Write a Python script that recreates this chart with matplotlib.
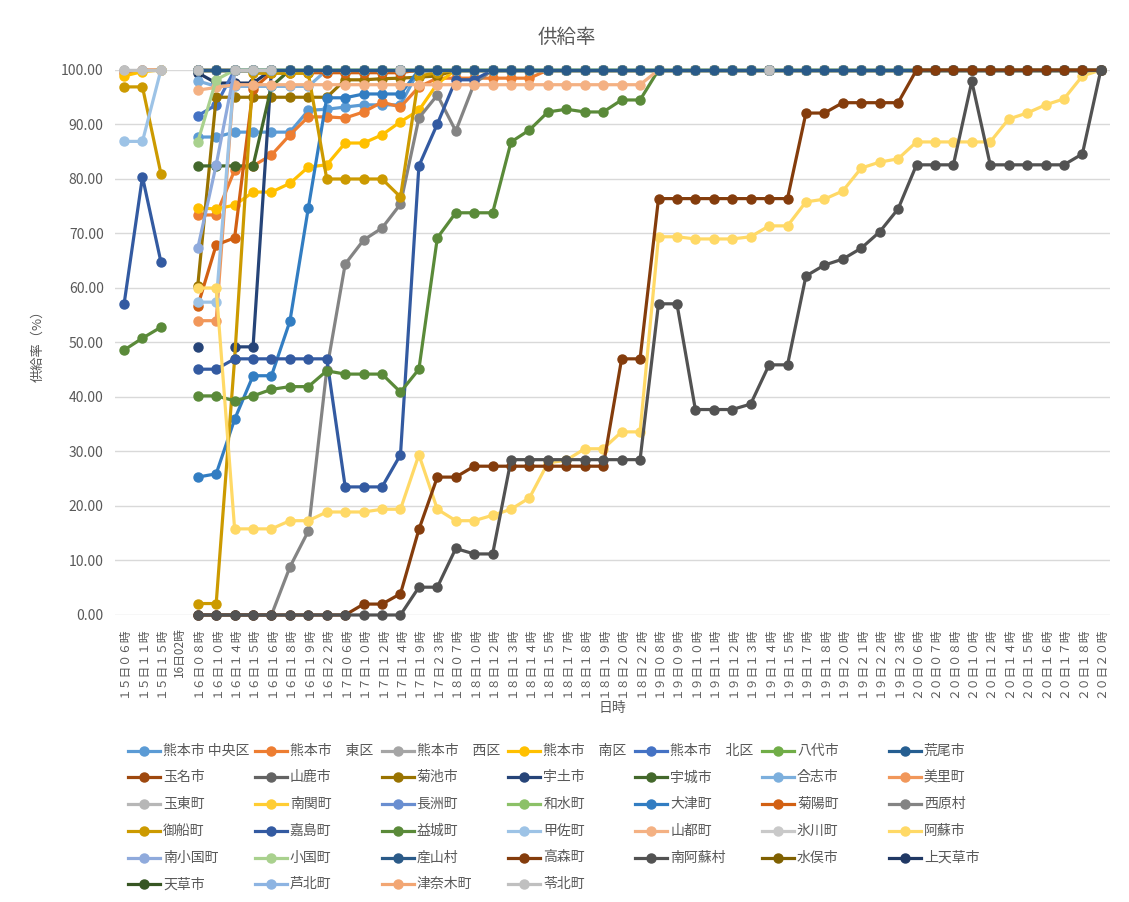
import matplotlib

matplotlib.use("Agg")

import matplotlib.pyplot as plt
import numpy as np
from matplotlib.lines import Line2D

plt.rcParams["font.family"] = ["Noto Sans CJK JP", "DejaVu Sans"]

TEXT_COLOR = "#595959"
GRID_COLOR = "#D9D9D9"

_ = None

X_LABELS = [
    "１５日０６時", "１５日１１時", "１５日１５時", "16日02時",
    "１６日０８時", "１６日１０時", "１６日１４時", "１６日１５時", "１６日１６時",
    "１６日１８時", "１６日１９時", "１６日２２時",
    "１７日０６時", "１７日１０時", "１７日１２時", "１７日１４時", "１７日１９時", "１７日２３時",
    "１８日０７時", "１８日１０時", "１８日１２時", "１８日１３時", "１８日１４時", "１８日１５時",
    "１８日１７時", "１８日１８時", "１８日１９時", "１８日２０時", "１８日２２時",
    "１９日０８時", "１９日０９時", "１９日１０時", "１９日１１時", "１９日１２時", "１９日１３時",
    "１９日１４時", "１９日１５時", "１９日１７時", "１９日１８時", "１９日２０時", "１９日２１時",
    "１９日２２時", "１９日２３時",
    "２０日０６時", "２０日０７時", "２０日０８時", "２０日１０時", "２０日１２時", "２０日１４時",
    "２０日１５時", "２０日１６時", "２０日１７時", "２０日１８時", "２０日２０時",
]

# rows: 15日 + 16日02時 | then 50 values from 16日08時, ten per line
chuo = [
    _, _, _, _,
    87.7, 87.7, 88.6, 88.6, 88.6, 88.6, 92.6, 92.8, 93.2, 93.6,
    93.6, 93.6, 100, 100, 100, 100, 100, 100, 100, 100,
    100, 100, 100, 100, 100, 100, 100, 100, 100, 100,
    100, 100, 100, 100, 100, 100, 100, 100, 100, 100,
    100, 100, 100, 100, 100, 100, 100, 100, 100, 100,
]
higashi = [
    99.5, 100, 100, _,
    73.4, 73.4, 81.6, 82.4, 84.4, 88.1, 91.4, 91.4, 91.2, 92.3,
    94.1, 93.2, 96.9, 98.5, 98.5, 98.5, 98.5, 98.5, 98.5, 100,
    100, 100, 100, 100, 100, 100, 100, 100, 100, 100,
    100, 100, 100, 100, 100, 100, 100, 100, 100, 100,
    100, 100, 100, 100, 100, 100, 100, 100, 100, 100,
]
nishi = [
    100, 100, 100, _,
    100, 100, 100, 100, 100, 100, 100, 100, 100, 100,
    100, 100, 100, 100, 100, 100, 100, 100, 100, 100,
    100, 100, 100, 100, 100, 100, 100, 100, 100, 100,
    100, 100, 100, 100, 100, 100, 100, 100, 100, 100,
    100, 100, 100, 100, 100, 100, 100, 100, 100, 100,
]
minami = [
    98.9, 99.7, 100, _,
    74.7, 74.5, 75.2, 77.6, 77.6, 79.2, 82.2, 82.6, 86.6, 86.6,
    88.1, 90.5, 92.6, 97.5, 100, 100, 100, 100, 100, 100,
    100, 100, 100, 100, 100, 100, 100, 100, 100, 100,
    100, 100, 100, 100, 100, 100, 100, 100, 100, 100,
    100, 100, 100, 100, 100, 100, 100, 100, 100, 100,
]
kita = [
    _, _, _, _,
    91.6, 93.6, 100, 100, 100, 100, 100, 100, 100, 100,
    100, 100, 100, 100, 100, 100, 100, 100, 100, 100,
    100, 100, 100, 100, 100, 100, 100, 100, 100, 100,
    100, 100, 100, 100, 100, 100, 100, 100, 100, 100,
    100, 100, 100, 100, 100, 100, 100, 100, 100, 100,
]
yatsushiro = [
    _, _, _, _,
    100, 100, 100, 100, 100, 100, 100, 100, 100, 100,
    100, 100, 100, 100, 100, 100, 100, 100, 100, 100,
    100, 100, 100, 100, 100, 100, 100, 100, 100, 100,
    100, 100, 100, 100, 100, 100, 100, 100, 100, 100,
    100, 100, 100, 100, 100, 100, 100, 100, 100, 100,
]
arao = list(yatsushiro)
tamana = list(yatsushiro)
yamaga = list(yatsushiro)
kikuchi = [
    _, _, _, _,
    60.4, 95, 95, 95, 95, 95, 95, 95, 98.2, 98.2,
    98.4, 98.5, 98.7, 98.9, 100, 100, 100, 100, 100, 100,
    100, 100, 100, 100, 100, 100, 100, 100, 100, 100,
    100, 100, 100, 100, 100, 100, 100, 100, 100, 100,
    100, 100, 100, 100, 100, 100, 100, 100, 100, 100,
]
uto = [
    _, _, _, _,
    49.2, _, 49.2, 49.2, 100, 100, 100, 100, 100, 100,
    100, 100, 100, 100, 100, 100, 100, 100, 100, 100,
    100, 100, 100, 100, 100, 100, 100, 100, 100, 100,
    100, 100, 100, 100, 100, 100, 100, 100, 100, 100,
    100, 100, 100, 100, 100, 100, 100, 100, 100, 100,
]
uki = [
    _, _, _, _,
    82.4, 82.4, 82.4, 82.4, 97, 100, 100, 100, 100, 100,
    100, 100, 100, 100, 100, 100, 100, 100, 100, 100,
    100, 100, 100, 100, 100, 100, 100, 100, 100, 100,
    100, 100, 100, 100, 100, 100, 100, 100, 100, 100,
    100, 100, 100, 100, 100, 100, 100, 100, 100, 100,
]
koshi = [
    _, _, _, _,
    98, 97, 97, 97, 97, 97, 97, 100, 100, 100,
    100, 100, 100, 100, 100, 100, 100, 100, 100, 100,
    100, 100, 100, 100, 100, 100, 100, 100, 100, 100,
    100, 100, 100, 100, 100, 100, 100, 100, 100, 100,
    100, 100, 100, 100, 100, 100, 100, 100, 100, 100,
]
misato = [
    _, _, _, _,
    54, 54, 100, 100, 100, 100, 100, 100, 100, 100,
    100, 100, 100, 100, 100, 100, 100, 100, 100, 100,
    100, 100, 100, 100, 100, 100, 100, 100, 100, 100,
    100, 100, 100, 100, 100, 100, 100, 100, 100, 100,
    100, 100, 100, 100, 100, 100, 100, 100, 100, 100,
]
gyokuto = list(yatsushiro)
nankan = list(yatsushiro)
nagasu = list(yatsushiro)
nagomi = list(yatsushiro)
ozu = [
    _, _, _, _,
    25.3, 25.9, 35.9, 43.9, 43.9, 53.9, 74.7, 94.9, 94.9, 95.6,
    95.6, 95.6, 100, 100, 100, 100, 100, 100, 100, 100,
    100, 100, 100, 100, 100, 100, 100, 100, 100, 100,
    100, 100, 100, 100, 100, 100, 100, 100, 100, 100,
    100, 100, 100, 100, 100, 100, 100, 100, 100, 100,
]
kikuyo = [
    _, _, _, _,
    56.7, 67.9, 69.2, 96.5, 99.5, 99.5, 99.5, 99.5, 99.5, 99.5,
    99.5, 99.5, 100, 100, 100, 100, 100, 100, 100, 100,
    100, 100, 100, 100, 100, 100, 100, 100, 100, 100,
    100, 100, 100, 100, 100, 100, 100, 100, 100, 100,
    100, 100, 100, 100, 100, 100, 100, 100, 100, 100,
]
nishihara = [
    _, _, _, _,
    0, 0, 0, 0, 0, 8.8, 15.4, 45, 64.4, 68.8,
    71, 75.4, 91.2, 95.4, 88.8, 97.5, 100, 100, 100, 100,
    100, 100, 100, 100, 100, 100, 100, 100, 100, 100,
    100, 100, 100, 100, 100, 100, 100, 100, 100, 100,
    100, 100, 100, 100, 100, 100, 100, 100, 100, 100,
]
mifune = [
    96.9, 96.9, 81, _,
    2.1, 2.1, 47, 99.4, 99.4, 99.4, 99.4, 80, 80, 80,
    80, 76.7, 98.9, 99.5, 100, 100, 100, 100, 100, 100,
    100, 100, 100, 100, 100, 100, 100, 100, 100, 100,
    100, 100, 100, 100, 100, 100, 100, 100, 100, 100,
    100, 100, 100, 100, 100, 100, 100, 100, 100, 100,
]
kashima = [
    57, 80.4, 64.8, _,
    45.1, 45.1, 47, 47, 47, 47, 47, 47, 23.5, 23.5,
    23.5, 29.4, 82.4, 90.1, 98.2, 98.2, 100, 100, 100, 100,
    100, 100, 100, 100, 100, 100, 100, 100, 100, 100,
    100, 100, 100, 100, 100, 100, 100, 100, 100, 100,
    100, 100, 100, 100, 100, 100, 100, 100, 100, 100,
]
mashiki = [
    48.6, 50.8, 52.8, _,
    40.2, 40.2, 39.3, 40.2, 41.4, 41.9, 41.9, 44.8, 44.2, 44.2,
    44.2, 40.9, 45.1, 69.2, 73.8, 73.8, 73.8, 86.8, 89, 92.3,
    92.8, 92.3, 92.3, 94.5, 94.5, 100, 100, 100, 100, 100,
    100, 100, 100, 100, 100, 100, 100, 100, 100, 100,
    100, 100, 100, 100, 100, 100, 100, 100, 100, 100,
]
kosa = [
    86.9, 86.9, 100, _,
    57.4, 57.4, 100, 100, 100, 100, 100, 100, 100, 100,
    100, 100, 100, 100, 100, 100, 100, 100, 100, 100,
    100, 100, 100, 100, 100, 100, 100, 100, 100, 100,
    100, 100, 100, 100, 100, 100, 100, 100, 100, 100,
    100, 100, 100, 100, 100, 100, 100, 100, 100, 100,
]
yamato = [
    _, _, _, _,
    96.3, 96.8, 97.3, 97.3, 97.3, 97.3, 97.3, 97.3, 97.3, 97.3,
    97.3, 97.3, 97.3, 97.3, 97.3, 97.3, 97.3, 97.3, 97.3, 97.3,
    97.3, 97.3, 97.3, 97.3, 97.3, 100, 100, 100, 100, 100,
    100, 100, 100, 100, 100, 100, 100, 100, 100, 100,
    100, 100, 100, 100, 100, 100, 100, 100, 100, 100,
]
hikawa = list(yatsushiro)
aso = [
    _, _, _, _,
    60, 60, 15.8, 15.8, 15.8, 17.3, 17.3, 18.9, 18.9, 18.9,
    19.4, 19.4, 29.4, 19.4, 17.3, 17.3, 18.3, 19.4, 21.5, 27.9,
    28.4, 30.5, 30.5, 33.6, 33.6, 69.4, 69.4, 69.0, 69.0, 69.0,
    69.4, 71.4, 71.4, 75.8, 76.3, 77.8, 82.0, 83.1, 83.7, 86.8,
    86.8, 86.8, 86.8, 86.8, 91.0, 92.1, 93.6, 94.7, 98.9, 100,
]
minamioguni = [
    _, _, _, _,
    67.3, 82.6, 100, 100, 100, 100, 100, 100, 100, 100,
    100, 100, 100, 100, 100, 100, 100, 100, 100, 100,
    100, 100, 100, 100, 100, 100, 100, 100, 100, 100,
    100, 100, 100, 100, 100, 100, 100, 100, 100, 100,
    100, 100, 100, 100, 100, 100, 100, 100, 100, 100,
]
oguni = [
    _, _, _, _,
    86.8, 98.2, 100, 100, 100, 100, 100, 100, 100, 100,
    100, 100, 100, 100, 100, 100, 100, 100, 100, 100,
    100, 100, 100, 100, 100, 100, 100, 100, 100, 100,
    100, 100, 100, 100, 100, 100, 100, 100, 100, 100,
    100, 100, 100, 100, 100, 100, 100, 100, 100, 100,
]
ubuyama = list(yatsushiro)
takamori = [
    _, _, _, _,
    0, 0, 0, 0, 0, 0, 0, 0, 0, 2.0,
    2.0, 3.9, 15.7, 25.3, 25.3, 27.3, 27.3, 27.3, 27.3, 27.3,
    27.3, 27.3, 27.3, 47, 47, 76.4, 76.4, 76.4, 76.4, 76.4,
    76.4, 76.4, 76.4, 92.1, 92.1, 94, 94, 94, 94, 100,
    100, 100, 100, 100, 100, 100, 100, 100, 100, 100,
]
minamiaso = [
    _, _, _, _,
    0, 0, 0, 0, 0, 0, 0, 0, 0, 0,
    0, 0, 5.1, 5.1, 12.2, 11.2, 11.2, 28.5, 28.5, 28.5,
    28.5, 28.5, 28.5, 28.5, 28.5, 57.1, 57.1, 37.7, 37.7, 37.7,
    38.7, 45.9, 45.9, 62.2, 64.2, 65.3, 67.3, 70.3, 74.5, 82.6,
    82.6, 82.6, 97.9, 82.6, 82.6, 82.6, 82.6, 82.6, 84.6, 100,
]
minamata = list(yatsushiro)
kamiamakusa = [
    _, _, _, _,
    99.5, 97.6, 97.6, 97.6, 100, 100, 100, 100, 100, 100,
    100, 100, 100, 100, 100, 100, 100, 100, 100, 100,
    100, 100, 100, 100, 100, 100, 100, 100, 100, 100,
    100, 100, 100, 100, 100, 100, 100, 100, 100, 100,
    100, 100, 100, 100, 100, 100, 100, 100, 100, 100,
]
amakusa = list(yatsushiro)
ashikita = list(yatsushiro)
tsunagi = list(yatsushiro)
reihoku = [
    100, 100, 100, _,
    100, _, 100, 100, 100, _, _, _, _, _,
    _, 100, _, _, _, _, _, _, _, _,
    _, _, _, _, _, _, _, _, _, _,
    _, 100, _, _, _, _, _, _, _, _,
    _, _, _, _, _, _, _, _, _, _,
]

SERIES_NAMES = [
    "熊本市 中央区", "熊本市　東区", "熊本市　西区", "熊本市　南区", "熊本市　北区", "八代市", "荒尾市",
    "玉名市", "山鹿市", "菊池市", "宇土市", "宇城市", "合志市", "美里町",
    "玉東町", "南関町", "長洲町", "和水町", "大津町", "菊陽町", "西原村",
    "御船町", "嘉島町", "益城町", "甲佐町", "山都町", "氷川町", "阿蘇市",
    "南小国町", "小国町", "産山村", "高森町", "南阿蘇村", "水俣市", "上天草市",
    "天草市", "芦北町", "津奈木町", "苓北町",
]
SERIES_VALUES = [
    chuo, higashi, nishi, minami, kita, yatsushiro, arao,
    tamana, yamaga, kikuchi, uto, uki, koshi, misato,
    gyokuto, nankan, nagasu, nagomi, ozu, kikuyo, nishihara,
    mifune, kashima, mashiki, kosa, yamato, hikawa, aso,
    minamioguni, oguni, ubuyama, takamori, minamiaso, minamata, kamiamakusa,
    amakusa, ashikita, tsunagi, reihoku,
]
SERIES_COLORS = [
    "#5B9BD5", "#ED7D31", "#A5A5A5", "#FFC000", "#4472C4", "#70AD47", "#255E91",
    "#9E480E", "#636363", "#997300", "#264478", "#43682B", "#7CAFDD", "#F1975A",
    "#B7B7B7", "#FFCD33", "#698ED0", "#8CC168", "#327DC2", "#D26012", "#848484",
    "#CC9A00", "#335AA1", "#5A8A39", "#9DC3E6", "#F4B183", "#C9C9C9", "#FFD966",
    "#8FAADC", "#A9D18E", "#2A5A88", "#843C0C", "#525252", "#7F6000", "#203864",
    "#375623", "#8DB4E2", "#F2A673", "#C0C0C0",
]
# series hidden under the 産山村 line at 100
BEHIND = {"水俣市", "上天草市", "天草市", "芦北町", "津奈木町"}

fig = plt.figure(figsize=(11.29, 9.02), dpi=100)
ax = fig.add_axes([0.1017, 0.3182, 0.8815, 0.6042])

x = np.arange(len(X_LABELS))
for i, (name, values, color) in enumerate(zip(SERIES_NAMES, SERIES_VALUES, SERIES_COLORS)):
    y = np.array(values, dtype=float)
    z = 1.5 + i * 0.001 if name in BEHIND else 2 + i * 0.01
    ax.plot(x, y, color=color, linewidth=2.3, marker="o", markersize=6.5,
            clip_on=False, zorder=z, solid_capstyle="round")

ax.set_xlim(-0.5, len(X_LABELS) - 0.5)
ax.set_ylim(0, 100)
ax.set_yticks(np.arange(0, 101, 10))
ax.yaxis.set_major_formatter(plt.FuncFormatter(lambda v, _p: f"{v:.2f}"))
ax.set_xticks(x)
ax.set_xticklabels(X_LABELS, rotation=90, fontsize=8.5, color=TEXT_COLOR)
ax.tick_params(axis="x", length=0, pad=9)
ax.tick_params(axis="y", length=0, pad=8, labelsize=10, labelcolor=TEXT_COLOR)
ax.grid(axis="y", color=GRID_COLOR, linewidth=1)
ax.set_axisbelow(True)
for spine in ax.spines.values():
    spine.set_visible(False)

ax.set_ylabel("供給率（%）", fontsize=9.5, color=TEXT_COLOR, labelpad=12)
ax.set_xlabel("日時", fontsize=10, color=TEXT_COLOR, labelpad=2)
fig.text(0.502, 0.959, "供給率", ha="center", va="center", fontsize=14, color=TEXT_COLOR)

# legend, 7 columns laid out like the spreadsheet one
W, H = 1129, 902
for i, (name, color) in enumerate(zip(SERIES_NAMES, SERIES_COLORS)):
    row, col = divmod(i, 7)
    x0 = 128 + col * 126.8
    y0 = 750.7 + row * 26.7
    fy = 1 - y0 / H
    fig.add_artist(Line2D([x0 / W, (x0 + 32) / W], [fy, fy], color=color, linewidth=2.3,
                          transform=fig.transFigure))
    fig.add_artist(Line2D([(x0 + 16) / W], [fy], color=color, marker="o", markersize=6.5,
                          transform=fig.transFigure))
    fig.text((x0 + 35) / W, fy, name, ha="left", va="center", fontsize=10, color=TEXT_COLOR)

fig.savefig("out.png", dpi=100)
plt.close(fig)
